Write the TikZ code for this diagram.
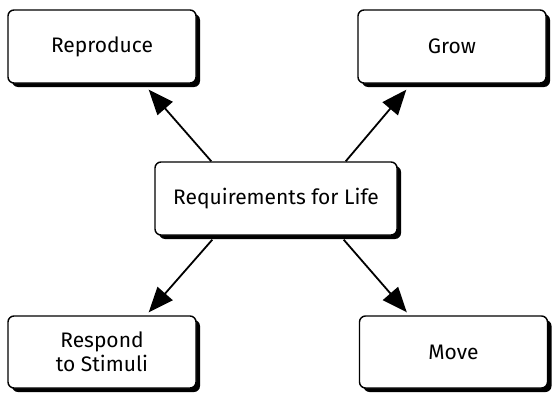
\documentclass[tikz,border=0pt]{standalone}
\usepackage{fontspec}
\setmainfont{Fira Sans}
\usetikzlibrary{arrows.meta,positioning,calc,shadows}

\begin{document}
\begin{tikzpicture}[x=1pt,y=1pt,
    lifebox/.style={draw,line width=1.4pt,rounded corners=6pt,fill=white,
      minimum width=188pt,minimum height=73pt,align=center,font=\fontsize{21}{24}\selectfont,
      drop shadow={shadow xshift=4pt,shadow yshift=-4pt,fill=black,opacity=1}},
    lifearrow/.style={line width=1.8pt,-{Triangle[length=25pt,width=20pt]}}]
  \useasboundingbox (0,0) rectangle (552,392);
  \node[lifebox] (repr) at (102,345.5) {Reproduce};
  \node[lifebox] (grow) at (452,345.5) {Grow};
  \node[lifebox,minimum width=242pt] (req) at (276,193.5) {Requirements for Life};
  \node[lifebox,minimum height=72pt] (resp) at (102,40) {Respond\\to Stimuli};
  \node[lifebox,minimum height=72pt] (move) at (453.5,40) {Move};
  % arrows from the centre box
  \draw[lifearrow] ([xshift=57pt]req.north west) -- ([xshift=-48pt,yshift=-6pt]repr.south east);
  \draw[lifearrow] ([xshift=-52pt]req.north east) -- ([xshift=49pt,yshift=-6pt]grow.south west);
  \draw[lifearrow] ([xshift=58pt,yshift=-4pt]req.south west) -- ([xshift=-48pt,yshift=3pt]resp.north east);
  \draw[lifearrow] ([xshift=-54pt,yshift=-4pt]req.south east) -- ([xshift=48pt,yshift=3pt]move.north west);
\end{tikzpicture}
\end{document}
